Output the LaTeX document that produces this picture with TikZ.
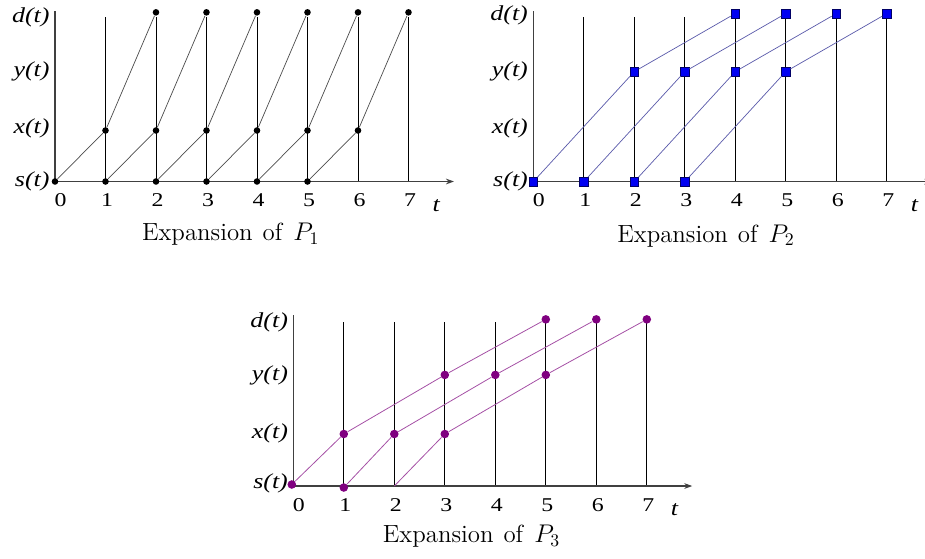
\documentclass[tikz,border=0pt]{standalone}
\usepackage{fontspec}
\newfontfamily\lblfont[FakeStretch=1.22]{Liberation Serif}
\usepackage{xcolor}
\usetikzlibrary{positioning,arrows.meta}

\definecolor{sqblue}{rgb}{0,0,0.95}
\definecolor{bluelink}{RGB}{90,90,170}
\definecolor{dotpurple}{RGB}{128,0,128}
\definecolor{purplelink}{RGB}{165,80,165}

\begin{document}
\begin{tikzpicture}[>={Stealth[length=4.5pt,width=3.2pt]},
  ax/.style={draw=black!75, line width=0.6pt},
  vline/.style={draw=black, line width=0.45pt},
  lbl/.style={font=\lblfont\itshape\fontsize{12}{14}\selectfont, anchor=east, inner sep=0pt},
  tick/.style={font=\lblfont\fontsize{11}{13}\selectfont, inner sep=0pt},
  tlbl/.style={font=\lblfont\itshape\fontsize{12}{14}\selectfont, inner sep=0pt},
  capt/.style={font=\fontsize{14}{16}\selectfont, inner sep=0pt},
  bdot/.style={circle, fill=black, inner sep=0pt, minimum size=0.13cm},
  bsq/.style={rectangle, draw=blue!40!black, line width=0.3pt, fill=sqblue, inner sep=0pt, minimum size=0.17cm},
  pdot/.style={circle, fill=dotpurple, inner sep=0pt, minimum size=0.17cm},
  blink/.style={draw=black!70, line width=0.4pt},
  qlink/.style={draw=bluelink, line width=0.4pt},
  plink/.style={draw=purplelink, line width=0.45pt}]
\useasboundingbox (0,0) rectangle (18.317,-11.069);

% expansion of P1
\begin{scope}[shift={(1.089,-3.594)}]
\foreach \i in {1,...,7} \draw[vline] (\i,0) -- (\i,3.25);
\draw[ax] (0,0) -- (0,3.38);
\draw[ax,->] (0,0) -- (7.9,0);
\foreach \i in {1,...,7} \node[tick] (a\i) at (\i+0.03,-0.37) {\i};
\node[tick] (a0) at (0.11,-0.37) {0};
\node[tlbl] (at) at (7.55,-0.47) {t};
\node[lbl] (as) at (-0.1,0) {s(t)};
\node[lbl] (ax) at (-0.1,1.05) {x(t)};
\node[lbl] (ay) at (-0.1,2.18) {y(t)};
\node[lbl] (ad) at (-0.1,3.25) {d(t)};
\foreach \i in {0,...,5} \node[bdot] (as\i) at (\i,0) {};
\foreach \i in {1,...,6} \node[bdot] (ax\i) at (\i,1.01) {};
\foreach \i in {2,...,7} \node[bdot] (ad\i) at (\i,3.35) {};
\foreach \i/\j/\k in {0/1/2,1/2/3,2/3/4,3/4/5,4/5/6,5/6/7}
  \draw[blink] (as\i) -- (ax\j) -- (ad\k);
\node[capt] (capa) at (3.48,-1.05) {Expansion\hspace{0.4em}of\hspace{0.45em}$P_1$};
\end{scope}

% expansion of P2
\begin{scope}[shift={(10.56,-3.598)}]
\foreach \i in {1,...,7} \draw[vline] (\i,0) -- (\i,3.26);
\draw[ax] (0,0) -- (0,3.38);
\draw[ax,->] (0,0) -- (7.9,0);
\foreach \i in {1,...,7} \node[tick] (b\i) at (\i+0.03,-0.37) {\i};
\node[tick] (b0) at (0.11,-0.37) {0};
\node[tlbl] (bt) at (7.55,-0.47) {t};
\node[lbl] (bs) at (-0.1,0) {s(t)};
\node[lbl] (bx) at (-0.1,1.05) {x(t)};
\node[lbl] (by) at (-0.1,2.18) {y(t)};
\node[lbl] (bd) at (-0.1,3.3) {d(t)};
\foreach \i in {0,...,3} \node[bsq] (bs\i) at (\i,0) {};
\foreach \i in {2,...,5} \node[bsq] (by\i) at (\i,2.18) {};
\foreach \i in {4,...,7} \node[bsq] (bd\i) at (\i,3.33) {};
\foreach \i/\j/\k in {0/2/4,1/3/5,2/4/6,3/5/7}
  \draw[qlink] (bs\i) -- (by\j) -- (bd\k);
\node[capt] (capb) at (3.42,-1.07) {Expansion\hspace{0.4em}of\hspace{0.45em}$P_2$};
\end{scope}

% expansion of P3
\begin{scope}[shift={(5.808,-9.624)}]
\foreach \i in {1,...,7} \draw[vline] (\i,0) -- (\i,3.25);
\draw[ax] (0,0) -- (0,3.38);
\draw[ax,->] (0,0) -- (7.9,0);
\foreach \i in {1,...,7} \node[tick] (c\i) at (\i+0.03,-0.37) {\i};
\node[tick] (c0) at (0.11,-0.37) {0};
\node[tlbl] (ct) at (7.55,-0.47) {t};
\node[lbl] (cs) at (-0.1,0.05) {s(t)};
\node[lbl] (cx) at (-0.1,1.05) {x(t)};
\node[lbl] (cy) at (-0.1,2.2) {y(t)};
\node[lbl] (cd) at (-0.1,3.25) {d(t)};
\node[pdot] (cs0) at (-0.03,0.03) {};
\node[pdot] (cs1) at (1,-0.03) {};
\coordinate (cs2) at (2,0);
\foreach \i in {1,...,3} \node[pdot] (cx\i) at (\i,1.03) {};
\foreach \i in {3,...,5} \node[pdot] (cy\i) at (\i,2.2) {};
\foreach \i in {5,...,7} \node[pdot] (cd\i) at (\i,3.3) {};
\foreach \i/\j/\k/\l in {0/1/3/5,1/2/4/6,2/3/5/7}
  \draw[plink] (cs\i) -- (cx\j) -- (cy\k) -- (cd\l);
\node[capt] (capc) at (3.53,-1.0) {Expansion\hspace{0.4em}of\hspace{0.45em}$P_3$};
\end{scope}
\end{tikzpicture}
\end{document}
